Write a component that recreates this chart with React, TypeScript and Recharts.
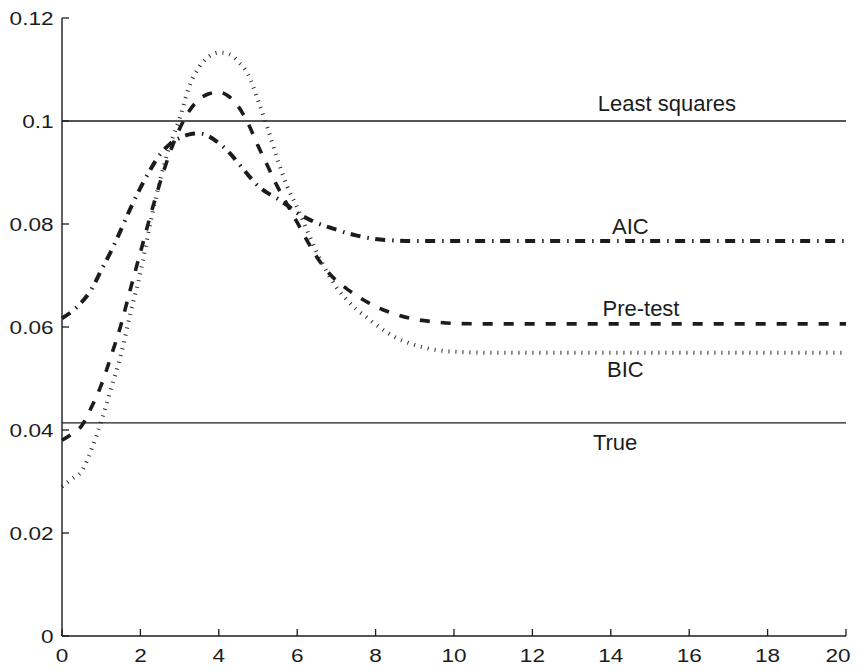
import React from "react";
import {
  LineChart,
  Line,
  XAxis,
  YAxis,
  ReferenceLine,
  ReferenceDot,
} from "recharts";

// ---- data ----
const xValues = [
  0, 0.25, 0.5, 0.75, 1, 1.25, 1.5, 1.75, 2, 2.25, 2.5, 2.75, 3, 3.25, 3.5,
  3.75, 4, 4.25, 4.5, 4.75, 5, 5.25, 5.5, 5.75, 6, 6.25, 6.5, 6.75, 7, 7.25,
  7.5, 7.75, 8, 8.5, 9, 9.5, 10, 11, 12, 13, 14, 15, 16, 17, 18, 19, 20,
];
const aicValues = [
  0.0617, 0.063, 0.0648, 0.0673, 0.071, 0.0747, 0.0788, 0.0831, 0.087, 0.0905,
  0.0935, 0.0955, 0.0967, 0.0974, 0.0976, 0.097, 0.0957, 0.094, 0.0918, 0.0895,
  0.0874, 0.086, 0.0849, 0.0836, 0.0821, 0.0811, 0.0802, 0.0795, 0.0789,
  0.0783, 0.0778, 0.0774, 0.0771, 0.0768, 0.0767, 0.0767, 0.0767, 0.0767,
  0.0767, 0.0767, 0.0767, 0.0767, 0.0767, 0.0767, 0.0767, 0.0767, 0.0767,
];
const pretestValues = [
  0.038, 0.0392, 0.0408, 0.0444, 0.0487, 0.0543, 0.0603, 0.0675, 0.0745,
  0.0815, 0.088, 0.0938, 0.0985, 0.102, 0.1042, 0.1053, 0.1056, 0.1048,
  0.1028, 0.0995, 0.0952, 0.0912, 0.0872, 0.0837, 0.0803, 0.0768, 0.0736,
  0.071, 0.069, 0.0675, 0.0662, 0.065, 0.064, 0.0625, 0.0615, 0.061, 0.0607,
  0.0606, 0.0606, 0.0606, 0.0606, 0.0606, 0.0606, 0.0606, 0.0606, 0.0606,
  0.0606,
];
const bicValues = [
  0.029, 0.0305, 0.032, 0.0362, 0.0417, 0.048, 0.0545, 0.0628, 0.0706, 0.08,
  0.0885, 0.0952, 0.1005, 0.1068, 0.1105, 0.1125, 0.1133, 0.113, 0.1115,
  0.109, 0.104, 0.0985, 0.0925, 0.0872, 0.0832, 0.0788, 0.0745, 0.0708,
  0.0677, 0.0654, 0.0635, 0.062, 0.0605, 0.058, 0.0565, 0.0556, 0.0552, 0.055,
  0.055, 0.055, 0.055, 0.055, 0.055, 0.055, 0.055, 0.055, 0.055,
];
const leastSquaresValue = 0.1;
const trueValue = 0.0414;

const xTicks = [0, 2, 4, 6, 8, 10, 12, 14, 16, 18, 20];
const yTicks = [0, 0.02, 0.04, 0.06, 0.08, 0.1, 0.12];
const yTickLabels = ["0", "0.02", "0.04", "0.06", "0.08", "0.1", "0.12"];

const curveLabels = [
  { text: "Least squares", x: 15.43, y: 0.1035 },
  { text: "AIC", x: 14.5, y: 0.0796 },
  { text: "Pre-test", x: 14.77, y: 0.0636 },
  { text: "BIC", x: 14.37, y: 0.0519 },
  { text: "True", x: 14.11, y: 0.0377 },
];

const data = xValues.map((x, i) => ({
  x,
  aic: aicValues[i],
  pretest: pretestValues[i],
  bic: bicValues[i],
}));

// ---- styling ----
const FONT = "'Liberation Sans', Arial, Helvetica, sans-serif";
const INK = "#1c1c1c";
const TICK_LEN = 7;

const BottomTick = (props: any) => {
  const { x, y, payload, index } = props;
  const isLast = index === xTicks.length - 1;
  return (
    <g>
      <line x1={x} y1={y} x2={x} y2={y - TICK_LEN} stroke={INK} strokeWidth={1.3} />
      <g transform={`translate(${isLast ? x + 4.5 : x},${y + 25.5})`}>
        <text
          transform="scale(1.22,1)"
          textAnchor={isLast ? "end" : "middle"}
          fontSize={18.5}
          fontFamily={FONT}
          fill={INK}
        >
          {payload.value}
        </text>
      </g>
    </g>
  );
};

const TopTick = (props: any) => {
  const { x, y } = props;
  return <line x1={x} y1={y} x2={x} y2={y + TICK_LEN} stroke={INK} strokeWidth={1.3} />;
};

const LeftTick = (props: any) => {
  const { x, y, index } = props;
  return (
    <g>
      <line x1={x} y1={y} x2={x + TICK_LEN} y2={y} stroke={INK} strokeWidth={1.3} />
      <g transform={`translate(${x - 8.5},${y + 6.6})`}>
        <text
          transform="scale(1.22,1)"
          textAnchor="end"
          fontSize={18.5}
          fontFamily={FONT}
          fill={INK}
        >
          {yTickLabels[index]}
        </text>
      </g>
    </g>
  );
};

const RightTick = (props: any) => {
  const { x, y } = props;
  return <line x1={x} y1={y} x2={x - TICK_LEN} y2={y} stroke={INK} strokeWidth={1.3} />;
};

export default function App() {
  return (
    <div style={{ width: 843, height: 655 }}>
      <style>{`html,body{overflow:hidden}.recharts-surface{overflow:visible;display:block}`}</style>
      <LineChart
        width={843}
        height={655}
        data={data}
        margin={{ top: 10, right: 5, bottom: 0, left: 10 }}
      >
        <XAxis
          dataKey="x"
          type="number"
          domain={[0, 20]}
          ticks={xTicks}
          tickSize={0}
          tickMargin={0}
          height={27}
          axisLine={{ stroke: INK, strokeWidth: 1.4 }}
          tickLine={false}
          tick={(p: any) => <BottomTick {...p} />}
          interval={0}
        />
        <XAxis
          xAxisId="top"
          orientation="top"
          dataKey="x"
          type="number"
          domain={[0, 20]}
          ticks={xTicks}
          tickSize={0}
          tickMargin={0}
          height={0}
          axisLine={{ stroke: INK, strokeWidth: 1.4 }}
          tickLine={false}
          tick={(p: any) => <TopTick {...p} />}
          interval={0}
        />
        <YAxis
          type="number"
          domain={[0, 0.12]}
          ticks={yTicks}
          tickSize={0}
          tickMargin={0}
          width={44}
          axisLine={{ stroke: INK, strokeWidth: 1.4 }}
          tickLine={false}
          tick={(p: any) => <LeftTick {...p} />}
          interval={0}
        />
        <YAxis
          yAxisId="right"
          orientation="right"
          type="number"
          domain={[0, 0.12]}
          ticks={yTicks}
          tickSize={0}
          tickMargin={0}
          width={0}
          axisLine={{ stroke: INK, strokeWidth: 1.4 }}
          tickLine={false}
          tick={(p: any) => <RightTick {...p} />}
          interval={0}
        />
        <ReferenceLine y={leastSquaresValue} stroke={INK} strokeWidth={1.3} />
        <ReferenceLine y={trueValue} stroke={INK} strokeWidth={1.3} />
        <Line
          dataKey="bic"
          type="monotone"
          stroke="#2a2a2a"
          strokeWidth={4}
          strokeDasharray="1 6"
          dot={false}
          activeDot={false}
          isAnimationActive={false}
        />
        <Line
          dataKey="pretest"
          type="monotone"
          stroke={INK}
          strokeWidth={3.6}
          strokeDasharray="10 11"
          dot={false}
          activeDot={false}
          isAnimationActive={false}
        />
        <Line
          dataKey="aic"
          type="monotone"
          stroke={INK}
          strokeWidth={4}
          strokeDasharray="10 7 1.5 6.5"
          dot={false}
          activeDot={false}
          isAnimationActive={false}
        />
        {curveLabels.map((l) => (
          <ReferenceDot
            key={l.text}
            x={l.x}
            y={l.y}
            r={1}
            fill="none"
            stroke="none"
            label={{
              value: l.text,
              position: "center",
              fontSize: 22,
              fill: INK,
              fontFamily: FONT,
            }}
          />
        ))}
      </LineChart>
    </div>
  );
}
